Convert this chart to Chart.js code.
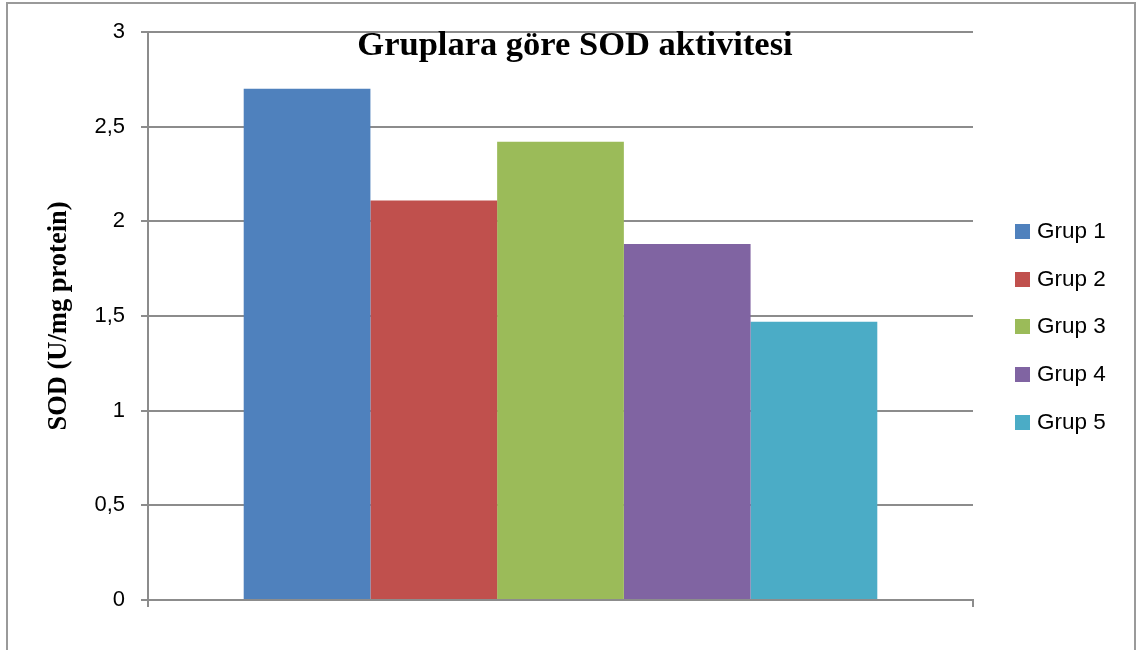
<!DOCTYPE html>
<html>
<head>
<meta charset="utf-8">
<script src="https://cdn.jsdelivr.net/npm/chart.js@4"></script>
<style>
    body { margin: 0; background: #fff; }
    #wrap { position: relative; width: 1147px; height: 650px; overflow: hidden; }
    #legend { position: absolute; left: 1015px; top: 222px; font: 22.5px "Liberation Sans", Arial, sans-serif; color: #000; }
    #legend div { height: 47.7px; display: flex; align-items: flex-start; }
    #legend span.box { display: inline-block; width: 15px; height: 15px; margin-top: 2px; margin-right: 7px; }
    #legend span.txt { line-height: 20px; margin-top: -1px; }
</style>
</head>
<body>
<div id="wrap">
    <canvas id="chart" width="1147" height="650"></canvas>
    <div id="legend"></div>
</div>
<script>
const chartTitle = 'Gruplara göre SOD aktivitesi';
const axisTitle = 'SOD (U/mg protein)';
const categories = [''];
const groups = ['Grup 1', 'Grup 2', 'Grup 3', 'Grup 4', 'Grup 5'];
const sodValues = [2.70, 2.11, 2.42, 1.88, 1.47];
const groupColors = ['#4F81BD', '#C0504D', '#9BBB59', '#8064A2', '#4BACC6'];

// frame round the whole picture + title inside the plot area
const decorations = {
    id: 'decorations',
    beforeDraw(chart) {
        const ctx = chart.ctx;
        ctx.save();
        ctx.strokeStyle = '#9a9a9a';
        ctx.lineWidth = 2;
        ctx.strokeRect(7, 3, 1128, 700);
        ctx.restore();
    },
    afterDraw(chart) {
        const ctx = chart.ctx;
        ctx.save();
        ctx.fillStyle = '#000';
        ctx.font = 'bold 34.5px "Liberation Serif", "Times New Roman", serif';
        ctx.textAlign = 'center';
        ctx.textBaseline = 'alphabetic';
        ctx.fillText(chartTitle, 575, 55);
        ctx.restore();
    }
};

let datasets = groups.map((name, i) => ({
    label: name,
    data: [sodValues[i]],
    backgroundColor: groupColors[i],
    borderWidth: 0,
    barPercentage: 1,
    categoryPercentage: 0.768
}));

new Chart(document.getElementById('chart'), {
    type: 'bar',
    data: { labels: categories, datasets },
    options: {
        responsive: false,
        animation: false,
        layout: { padding: { top: 32, right: 174, left: 0, bottom: 0 } },
        plugins: {
            legend: { display: false },
            tooltip: { enabled: false }
        },
        scales: {
            x: {
                grid: { drawOnChartArea: false, drawTicks: true, tickLength: 7, color: '#8c8c8c', lineWidth: 2 },
                border: { color: '#8c8c8c', width: 2 },
                ticks: { display: true },
                afterFit: (scale) => { scale.height = 50; }
            },
            y: {
                min: 0,
                max: 3,
                ticks: {
                    stepSize: 0.5,
                    padding: 16,
                    color: '#000',
                    font: { family: '"Liberation Sans", Arial, sans-serif', size: 22 },
                    callback: (v) => String(v).replace('.', ',')
                },
                grid: { color: '#8c8c8c', lineWidth: 2, tickLength: 7 },
                border: { color: '#8c8c8c', width: 2 },
                title: {
                    display: true,
                    text: axisTitle,
                    color: '#000',
                    font: { family: '"Liberation Serif", "Times New Roman", serif', size: 26.5, weight: 'bold' },
                    padding: { top: 43, bottom: 0 }
                },
                afterFit: (scale) => { scale.width = 148; }
            }
        }
    },
    plugins: [decorations]
});

// legend
let $legend = document.getElementById('legend');
groups.forEach((name, i) => {
    let row = document.createElement('div');
    row.innerHTML = '<span class="box" style="background:' + groupColors[i] + '"></span><span class="txt">' + name + '</span>';
    $legend.appendChild(row);
});
</script>
</body>
</html>
